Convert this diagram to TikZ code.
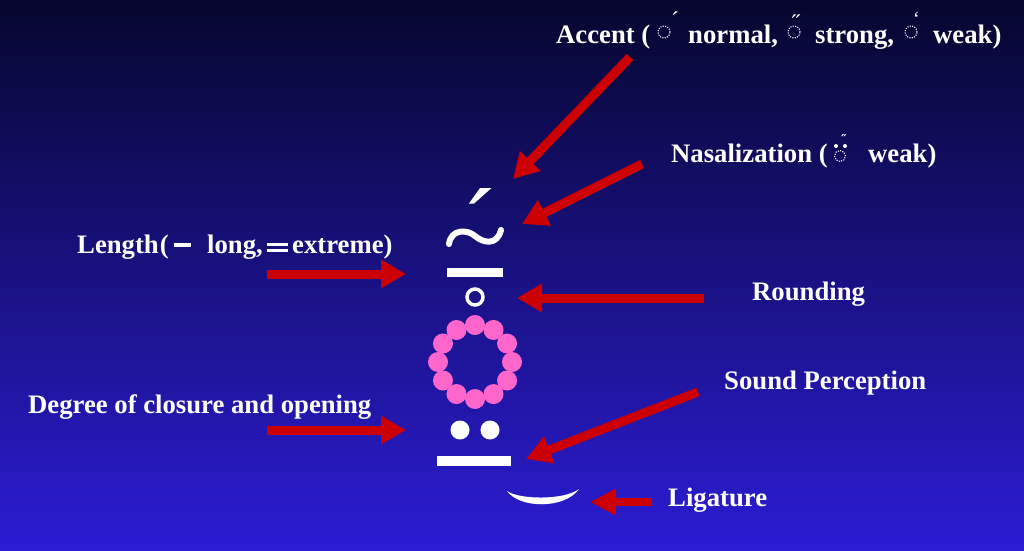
\documentclass[tikz,border=0pt]{standalone}
\usepackage{fontspec}
\setmainfont{Liberation Serif}
\usetikzlibrary{arrows.meta}
\definecolor{arrowred}{RGB}{204,0,0}
\definecolor{pinkdot}{RGB}{255,102,204}
\definecolor{bgtop}{RGB}{6,6,46}
\definecolor{bgmid}{RGB}{15,15,140}
\definecolor{bgbot}{RGB}{44,28,212}
\begin{document}
\begin{tikzpicture}[x=1pt,y=-1pt,
  lbl/.style={text=white,font=\bfseries\fontsize{26.7}{30}\selectfont,anchor=base west,inner sep=0pt},
  diacr/.style={text=white,font=\fontsize{24}{26}\selectfont,anchor=center,inner sep=0pt},
  arr/.style={draw=arrowred,line width=9pt,-{Triangle[width=27pt,length=25pt]}},
  dotcirc/.style={draw=white,line width=1.1pt,dash pattern=on 1.1pt off 1.3pt}]
\useasboundingbox (0,0) rectangle (1024,550);
\shade[top color=bgtop,middle color=bgmid,bottom color=bgbot] (0,0) rectangle (1024,550);

% ---- labels ----
\node[lbl] (acc1) at (556,43) {Accent (};
\draw[dotcirc] (664,32) circle (6pt);
\node[diacr] (accA) at (675,20) {´};
\node[lbl] (acc2) at (688,43) {normal,};
\draw[dotcirc] (794,32) circle (6pt);
\node[diacr] (accB) at (796,23) {˝};
\node[lbl] (acc3) at (815,43) {strong,};
\draw[dotcirc] (911,32) circle (6pt);
\node[diacr,font=\fontsize{20}{22}\selectfont] (accC) at (916.5,19) {`};
\node[lbl] (acc4) at (933,43) {weak)};

\node[lbl] (nas1) at (671,162) {Nasalization (};
\draw[dotcirc] (840,156) circle (5.5pt);
\fill[white] (836,146) circle (2pt) (845,146) circle (2pt);
\node[diacr,font=\bfseries\fontsize{14}{14}\selectfont] (nasM) at (844,140) {˝};
\node[lbl] (nas2) at (868,162) {weak)};

\node[lbl] (len1) at (77,253) {Length\kern1pt(};
\fill[white] (174,243) rectangle (191,247);
\node[lbl] (len2) at (207,253) {long,};
\fill[white] (267,242.5) rectangle (288,245.5);
\fill[white] (267,249) rectangle (288,252);
\node[lbl] (len3) at (292,253) {extreme)};

\node[lbl] (rnd) at (752,300) {Rounding};
\node[lbl] (deg) at (28,413) {Degree of closure and opening};
\node[lbl] (snd) at (724,389) {Sound Perception};
\node[lbl] (lig) at (668,506) {Ligature};

% ---- vertical symbol stack ----
\fill[white] (480,188) -- (491.5,188) -- (474,203.5) -- (469,203.5) -- cycle;
\draw[white,line width=6pt,line cap=round] (449,244) .. controls (451,229) and (467,229) .. (475,236) .. controls (483,243) and (497,246) .. (501,230);
\fill[white] (447,268) rectangle (503,277);
\draw[white,line width=3.5pt] (475,297) circle (8pt);
\coordinate (rc) at (475,362);
\foreach \a in {0,30,...,330}
  \fill[pinkdot] ([shift={(\a:37pt)}]rc) circle (10pt);
\fill[white] (460,430) circle (9.5pt) (490,430) circle (9.5pt);
\fill[white] (437,456) rectangle (511,466);
\fill[white] (507,491) .. controls (520,509) and (565,509) .. (579,489) .. controls (565,500) and (520,500) .. cycle;

% ---- arrows ----
\coordinate (tA) at (630,57);   \coordinate (hA) at (513,179);
\coordinate (tN) at (642,164);  \coordinate (hN) at (522,224);
\coordinate (tL) at (267,274);  \coordinate (hL) at (406,274);
\coordinate (tR) at (704,298);  \coordinate (hR) at (517,298);
\coordinate (tD) at (267,430);  \coordinate (hD) at (406,430);
\coordinate (tS) at (698,392);  \coordinate (hS) at (526,459);
\coordinate (tG) at (652,502);  \coordinate (hG) at (590,502);
\draw[arr] (tA) -- (hA);
\draw[arr] (tN) -- (hN);
\draw[arr] (tL) -- (hL);
\draw[arr] (tR) -- (hR);
\draw[arr] (tD) -- (hD);
\draw[arr] (tS) -- (hS);
\draw[arr,line width=8pt,-{Triangle[width=25pt,length=26pt]}] (tG) -- (hG);
\end{tikzpicture}
\end{document}
